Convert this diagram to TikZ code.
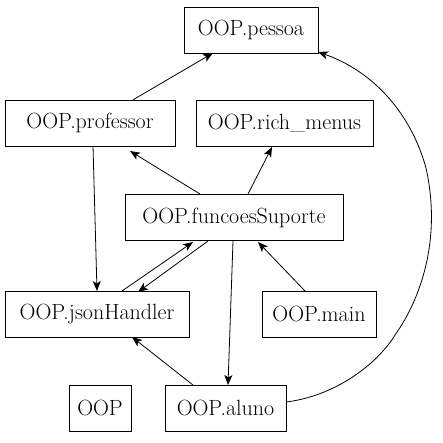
\documentclass[tikz,border=0pt]{standalone}
\usetikzlibrary{arrows.meta}
\begin{document}
\begin{tikzpicture}[x=1pt,y=-1pt,
  box/.style={draw,thick,rectangle,minimum height=46pt,inner sep=0pt,font=\fontsize{22}{26}\selectfont},
  arr/.style={-{Stealth[length=10pt,width=8pt,inset=2.5pt]},thick}]
\useasboundingbox (0,0) rectangle (442,443);
\node[box,minimum width=134pt] (pessoa) at (251,30) {OOP.pessoa};
\node[box,minimum width=170pt] (prof) at (90,123) {OOP.professor};
\node[box,minimum width=177pt] (rich) at (284.5,123) {OOP.rich\_menus};
\node[box,minimum width=218pt] (func) at (234,217.5) {OOP.funcoesSuporte};
\node[box,minimum width=184pt] (json) at (97,314) {OOP.jsonHandler};
\node[box,minimum width=114pt] (main) at (319,314) {OOP.main};
\node[box,minimum width=62pt] (oop) at (100,408) {OOP};
\node[box,minimum width=121pt] (aluno) at (225.5,408) {OOP.aluno};
\coordinate (c1) at (395,335);
\coordinate (c2) at (426,168);
\draw[arr] (prof.north east) ++(-42,0) -- (213,53);
\draw[arr] (aluno.east) ++(0,-6) .. controls (340,395) and (380,360) .. (c1)
  .. controls (420,300) and (442,240) .. (c2)
  .. controls (410,110) and (370,70) .. (318,52);
\draw[arr] (93,146) -- (97,291);
\draw[arr] (200,194) -- (130,151);
\draw[arr] (248,194) -- (272,147);
\draw[arr] (208,241) -- (138,292);
\draw[arr] (122,291) -- (193,242);
\draw[arr] (233,241) -- (228,385);
\draw[arr] (305,291) -- (258,242);
\draw[arr] (193,385) -- (132,337);
\end{tikzpicture}
\end{document}
